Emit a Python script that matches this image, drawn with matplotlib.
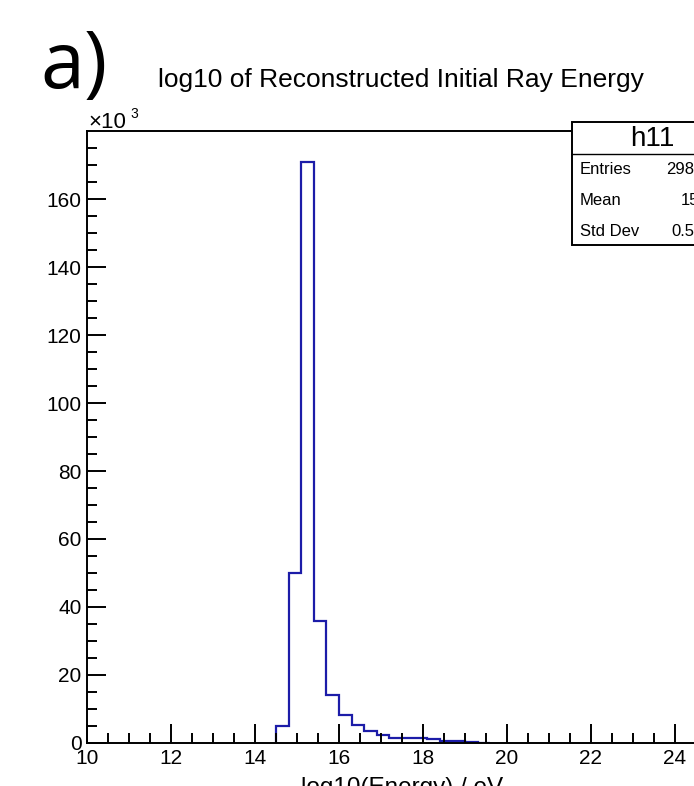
import matplotlib
matplotlib.use("Agg")
import matplotlib.pyplot as plt
import matplotlib.patches as mpatches
import numpy as np

# histogram h11: counts in units of 10^3, bins of 0.3 starting at 14.5
bin_start = 14.5
bin_width = 0.3
counts_k = [5.0, 50.0, 171.0, 36.0, 14.0, 8.2, 5.2, 3.4, 2.5, 1.6,
            1.5, 1.4, 1.3, 0.7, 0.5, 0.3, 0.1]

stat_labels = ["Entries", "Mean", "Std Dev"]
stat_values = ["298341", "15.38", "0.5271"]

title = "log10 of Reconstructed Initial Ray Energy"
xlabel = "log10(Energy) / eV"
x_range = (10, 25)
y_range = (0, 180)

W, H = 694, 786
fig = plt.figure(figsize=(W / 100, H / 100), dpi=100)
fig.patch.set_facecolor("white")

# axes frame in pixel coords (right edge runs past the cropped picture)
left, right, top, bottom = 87, 717, 131, 743
ax = fig.add_axes([left / W, 1 - bottom / H, (right - left) / W, (bottom - top) / H])

edges = bin_start + bin_width * np.arange(len(counts_k) + 1)
ax.stairs(counts_k, edges, color="#1c1ca8", linewidth=1.6, baseline=0)

ax.set_xlim(*x_range)
ax.set_ylim(*y_range)
ax.set_xticks(np.arange(10, 26, 2))
ax.set_xticks(np.arange(10, 25.01, 0.5), minor=True)
ax.set_yticks(np.arange(0, 180, 20))
ax.set_yticks(np.arange(0, 180, 5), minor=True)

font = "Liberation Sans"
ax.tick_params(which="both", direction="in", top=False, right=False, width=1.4, colors="black")
ax.tick_params(which="major", length=14, labelsize=15, pad=4)
ax.tick_params(which="minor", length=7)
for lbl in ax.get_xticklabels() + ax.get_yticklabels():
    lbl.set_fontfamily(font)
for sp in ax.spines.values():
    sp.set_linewidth(1.4)

ax.set_xlabel(xlabel, fontsize=17.5, fontfamily=font, labelpad=7)

fig.text(401 / W, 1 - 80 / H, title, ha="center", va="center", fontsize=19, fontfamily=font)
fig.text(40 / W, 1 - 88 / H, "a)", ha="left", va="baseline", fontsize=57, fontfamily="Open Sans")
fig.text(88 / W, 1 - 128 / H, "\u00d710", ha="left", va="baseline", fontsize=16, fontfamily=font)
fig.text(130 / W, 1 - 118 / H, "3", ha="left", va="baseline", fontsize=10, fontfamily=font)

# stat box
bx0, bx1, by0, by1, by_div = 572, 732, 122, 245, 154
fig.add_artist(mpatches.Rectangle((bx0 / W, 1 - by1 / H), (bx1 - bx0) / W, (by1 - by0) / H,
                                  transform=fig.transFigure, facecolor="white",
                                  edgecolor="black", linewidth=1.4))
fig.add_artist(plt.Line2D([bx0 / W, bx1 / W], [1 - by_div / H, 1 - by_div / H],
                          transform=fig.transFigure, color="black", linewidth=1.0))
fig.text((bx0 + bx1) / 2 / W, 1 - 139 / H, "h11", ha="center", va="center", fontsize=20, fontfamily=font)
for i, (lab, val) in enumerate(zip(stat_labels, stat_values)):
    y = 1 - (170 + 30.5 * i) / H
    fig.text(580 / W, y, lab, ha="left", va="center", fontsize=12, fontfamily=font)
    fig.text(722 / W, y, val, ha="right", va="center", fontsize=12, fontfamily=font)

fig.savefig("out.png", dpi=100)
